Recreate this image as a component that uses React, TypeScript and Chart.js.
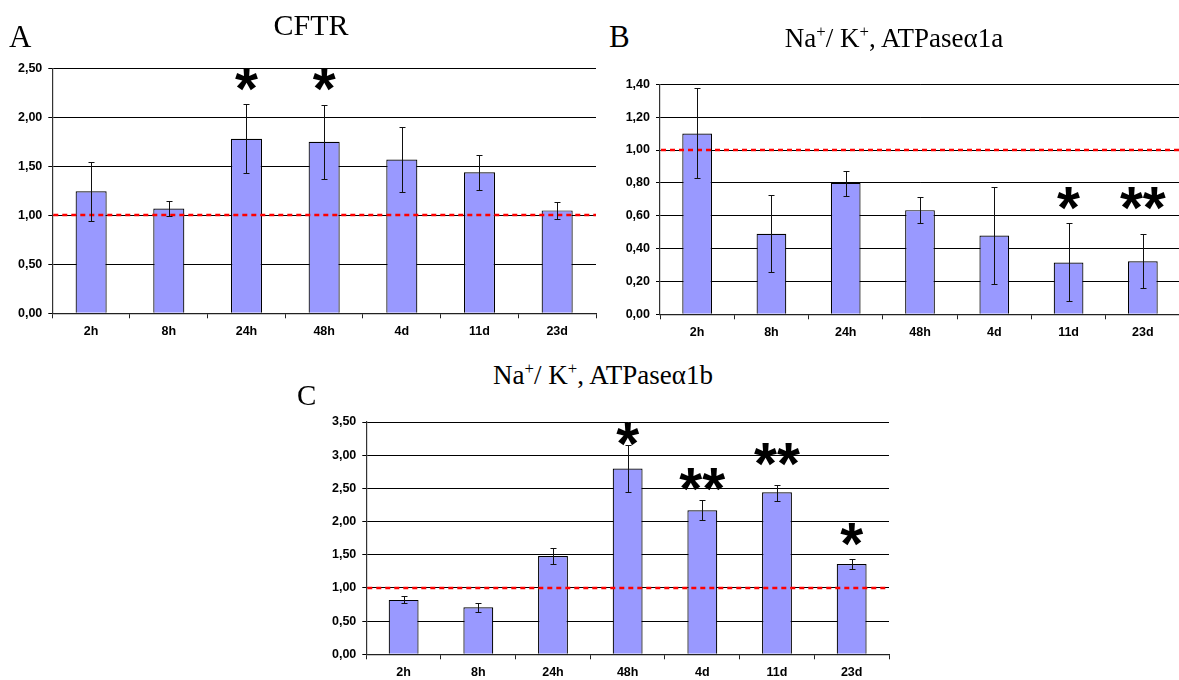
import React, { useEffect, useRef } from 'react';
import { Chart, registerables } from 'chart.js';

Chart.register(...registerables);

// ---------- data ----------
const categories = ['2h', '8h', '24h', '48h', '4d', '11d', '23d'];

const cftrMeans = [1.245, 1.07, 1.78, 1.75, 1.57, 1.44, 1.05];
const cftrErrHigh = [1.54, 1.15, 2.135, 2.13, 1.9, 1.62, 1.14];
const cftrErrLow = [0.94, 0.99, 1.43, 1.37, 1.24, 1.26, 0.96];
const cftrSig = ['', '', '*', '*', '', '', ''];
const cftrSigY = [0, 0, 2.39, 2.39, 0, 0, 0];
const cftrMax = 2.5;
const cftrStep = 0.5;

const a1aMeans = [1.1, 0.49, 0.8, 0.634, 0.48, 0.315, 0.323];
const a1aErrHigh = [1.376, 0.726, 0.872, 0.715, 0.772, 0.554, 0.488];
const a1aErrLow = [0.828, 0.258, 0.72, 0.555, 0.187, 0.08, 0.16];
const a1aSig = ['', '', '', '', '', '*', '**'];
const a1aSigY = [0, 0, 0, 0, 0, 0.704, 0.704];
const a1aMax = 1.4;
const a1aStep = 0.2;

const a1bMeans = [0.82, 0.71, 1.48, 2.8, 2.17, 2.44, 1.36];
const a1bErrHigh = [0.875, 0.78, 1.6, 3.155, 2.32, 2.55, 1.43];
const a1bErrLow = [0.77, 0.64, 1.36, 2.44, 2.025, 2.315, 1.285];
const a1bSig = ['', '', '', '*', '**', '**', '*'];
const a1bSigY = [0, 0, 0, 3.306, 2.638, 3.005, 1.8];
const a1bMax = 3.5;
const a1bStep = 0.5;

const referenceLevel = 1.0;

// ---------- styling ----------
const SANS = '"Liberation Sans", Arial, sans-serif';
const SERIF = '"Liberation Serif", "Times New Roman", serif';
const BAR_FILL = '#9999ff';
const X_AXIS_H = 26;

type PanelProps = {
  means: number[];
  high: number[];
  low: number[];
  sig: string[];
  sigY: number[];
  max: number;
  step: number;
  plot: { L: number; T: number; R: number; B: number };
  canvas: { x: number; y: number; w: number; h: number };
};

const annotationPlugin = {
  id: 'panelAnnotations',
  afterDatasetsDraw(chart: any, _args: any, opts: any) {
    const { ctx, chartArea, scales } = chart;
    const ys = scales.y;
    const meta = chart.getDatasetMeta(0);
    ctx.save();
    // red dashed reference line
    const yr = Math.round(ys.getPixelForValue(opts.ref));
    ctx.strokeStyle = '#ff0000';
    ctx.lineWidth = 2.5;
    ctx.setLineDash([5, 4]);
    ctx.beginPath();
    ctx.moveTo(chartArea.left + 1, yr);
    ctx.lineTo(chartArea.right, yr);
    ctx.stroke();
    ctx.setLineDash([]);
    // error bars
    ctx.strokeStyle = '#111';
    ctx.lineWidth = 1;
    meta.data.forEach((bar: any, i: number) => {
      const x = Math.round(bar.x) + 0.5;
      const yh = Math.round(ys.getPixelForValue(opts.high[i])) + 0.5;
      const yl = Math.round(ys.getPixelForValue(opts.low[i])) + 0.5;
      ctx.beginPath();
      ctx.moveTo(x, yh);
      ctx.lineTo(x, yl);
      ctx.moveTo(x - 3, yh);
      ctx.lineTo(x + 3, yh);
      ctx.moveTo(x - 3, yl);
      ctx.lineTo(x + 3, yl);
      ctx.stroke();
    });
    // significance asterisks
    ctx.fillStyle = '#000';
    ctx.font = `bold 100px ${SANS}`;
    const m100 = ctx.measureText('*');
    const w100 = m100.actualBoundingBoxLeft + m100.actualBoundingBoxRight;
    const size = (100 * 23) / (w100 || 33);
    ctx.font = `bold ${size}px ${SANS}`;
    ctx.textAlign = 'center';
    ctx.textBaseline = 'alphabetic';
    meta.data.forEach((bar: any, i: number) => {
      const s = opts.sig[i];
      if (!s) return;
      const m = ctx.measureText(s);
      const cy = ys.getPixelForValue(opts.sigY[i]);
      const base = cy + (m.actualBoundingBoxAscent - m.actualBoundingBoxDescent) / 2;
      ctx.fillText(s, bar.x, base);
    });
    ctx.restore();
  },
};

function Panel(p: PanelProps) {
  const ref = useRef<HTMLCanvasElement>(null);
  useEffect(() => {
    if (!ref.current) return;
    const yAxisW = p.plot.L - p.canvas.x;
    const padTop = p.plot.T - p.canvas.y;
    const padRight = p.canvas.x + p.canvas.w - p.plot.R;
    const padBottom = p.canvas.y + p.canvas.h - p.plot.B - X_AXIS_H;
    const tickFont = { family: SANS, size: 12.5, weight: 'bold' as const };
    const chart = new Chart(ref.current, {
      type: 'bar',
      data: {
        labels: categories,
        datasets: [
          {
            data: p.means,
            backgroundColor: BAR_FILL,
            borderColor: '#000',
            borderWidth: 1.2,
            barPercentage: 1,
            categoryPercentage: 0.4,
          },
        ],
      },
      options: {
        animation: false,
        responsive: false,
        maintainAspectRatio: false,
        layout: { padding: { left: 0, top: padTop, right: padRight, bottom: padBottom } },
        plugins: {
          legend: { display: false },
          tooltip: { enabled: false },
          title: { display: false },
          panelAnnotations: { ref: referenceLevel, high: p.high, low: p.low, sig: p.sig, sigY: p.sigY },
        } as any,
        scales: {
          x: {
            grid: { offset: true, drawOnChartArea: false, drawTicks: true, tickLength: 5, color: '#222' },
            border: { color: '#222', width: 1.2 },
            ticks: { color: '#000', font: tickFont, padding: 6, maxRotation: 0, autoSkip: false },
            afterFit: (s: any) => {
              s.height = X_AXIS_H;
            },
          },
          y: {
            min: 0,
            max: p.max,
            grid: { color: '#000', lineWidth: 1, tickLength: 4 },
            border: { color: '#333', width: 1.2 },
            ticks: {
              stepSize: p.step,
              color: '#000',
              font: tickFont,
              padding: 6,
              callback: (v: any) => Number(v).toFixed(2).replace('.', ','),
            },
            afterFit: (s: any) => {
              s.width = yAxisW;
            },
          },
        },
      },
      plugins: [annotationPlugin],
    });
    return () => chart.destroy();
  }, []);
  return (
    <canvas
      ref={ref}
      width={p.canvas.w}
      height={p.canvas.h}
      style={{ position: 'absolute', left: p.canvas.x, top: p.canvas.y, width: p.canvas.w, height: p.canvas.h }}
    />
  );
}

function Text(props: { x: number; baseline: number; size: number; center?: boolean; children: React.ReactNode }) {
  const { x, baseline, size, center, children } = props;
  const top = baseline - 0.8375 * size;
  return (
    <div
      style={{
        position: 'absolute',
        left: center ? x - 200 : x,
        width: center ? 400 : undefined,
        top,
        fontFamily: SERIF,
        fontSize: size,
        lineHeight: `${size}px`,
        textAlign: center ? 'center' : 'left',
        whiteSpace: 'nowrap',
        color: '#000',
      }}
    >
      {children}
    </div>
  );
}

const supStyle: React.CSSProperties = { fontSize: '0.62em', verticalAlign: 'super', lineHeight: 0 };

export default function App() {
  return (
    <div
      style={{
        position: 'absolute',
        left: 0,
        top: 0,
        width: 1179,
        height: 680,
        overflow: 'hidden',
        background: '#fff',
      }}
    >
      <Panel
        means={cftrMeans}
        high={cftrErrHigh}
        low={cftrErrLow}
        sig={cftrSig}
        sigY={cftrSigY}
        max={cftrMax}
        step={cftrStep}
        plot={{ L: 52.3, T: 68.3, R: 596, B: 313.3 }}
        canvas={{ x: 0, y: 50, w: 606, h: 300 }}
      />
      <Panel
        means={a1aMeans}
        high={a1aErrHigh}
        low={a1aErrLow}
        sig={a1aSig}
        sigY={a1aSigY}
        max={a1aMax}
        step={a1aStep}
        plot={{ L: 660, T: 84.3, R: 1180, B: 314.3 }}
        canvas={{ x: 600, y: 60, w: 590, h: 290 }}
      />
      <Panel
        means={a1bMeans}
        high={a1bErrHigh}
        low={a1bErrLow}
        sig={a1bSig}
        sigY={a1bSigY}
        max={a1bMax}
        step={a1bStep}
        plot={{ L: 366.3, T: 422, R: 889, B: 654.3 }}
        canvas={{ x: 300, y: 400, w: 600, h: 280 }}
      />
      <Text x={9} baseline={47} size={31}>A</Text>
      <Text x={609} baseline={47} size={31}>B</Text>
      <Text x={297} baseline={405} size={29}>C</Text>
      <Text x={311} baseline={35} size={30} center>CFTR</Text>
      <Text x={894} baseline={48} size={27} center>
        Na<sup style={supStyle}>+</sup>/ K<sup style={supStyle}>+</sup>, ATPaseα1a
      </Text>
      <Text x={603} baseline={385} size={27} center>
        Na<sup style={supStyle}>+</sup>/ K<sup style={supStyle}>+</sup>, ATPaseα1b
      </Text>
    </div>
  );
}
